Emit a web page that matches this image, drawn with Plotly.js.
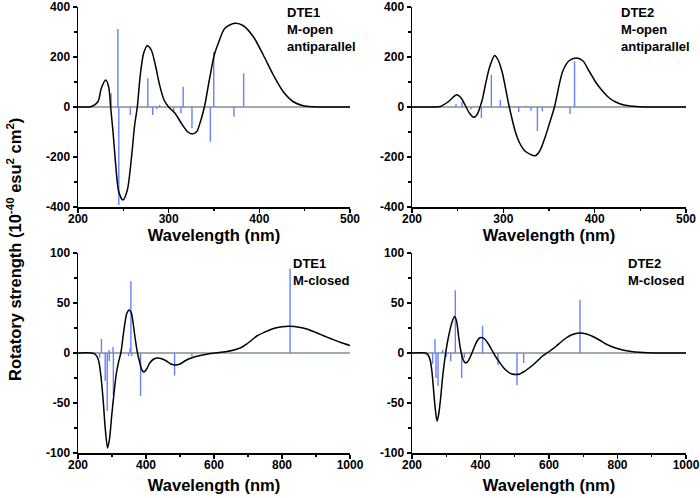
<!DOCTYPE html>
<html>
<head>
<meta charset="utf-8">
<script src="https://cdn.plot.ly/plotly-3.0.1.min.js"></script>
<style>html,body{margin:0;padding:0;background:#fff;}#chart{width:700px;height:498px;}</style>
</head>
<body>
<div id="chart"></div>
<script>
// ---- DTE1 M-open antiparallel ----
const o1CurveWl = [200,210,215,222,225.7,230.5,233.8,236,238.6,241.6,244.9,249.6,254.4,258.9,262.5,265.4,268.7,272.4,276.4,280.8,285.3,290,294.9,300,307,314,320.9,325.8,330.8,335,339.4,344.5,350.3,354.7,362,373,382.4,393.4,404.4,415.4,426.4,437.5,448.5,459.5,470,500];
const o1CurveR  = [0,0,2,21,75,108,81,0,-99,-232,-339,-372,-332,-205,-72,0,128,215,245,228,168,88,28,0,-25,-65,-99,-108,-99,-59,0,101,208,255,315,335,325,281,208,128,61,21,5,1,0,0];
const o1StickWl = [236.5,244,245,257.7,277,282.4,286.8,290,305.5,313.6,316,325.7,346,349.7,372,382.7];
const o1StickR  = [55,312,-392,-32,115,-32,-8,8,-19,-25,81,-85,-139,221,-39,135];

// ---- DTE2 M-open antiparallel ----
const o2CurveWl = [200,225,231,240,249,254,258,263,267.5,271,274.5,277,281,285,290.5,294,298.5,306,313,318,324,335,340,346,351,356,365,372,380,387,394,401,409,416,423,432,442,455,500];
const o2CurveR  = [0,0,2,22,49,35,9,-25,-41,-32,0,30,100,160,206,190,143,9,-97,-145,-177,-195,-175,-118,-60,0,143,185,196,185,143,100,62,36,20,8,3,0,0];
const o2StickWl = [248.2,254.7,264.6,276,286.9,296.7,304,306,316.8,325,330.3,337.3,342.7,373,378];
const o2StickR  = [12,20,-10,-44,129,29,-5,5,-20,5,-15,-97,-17,-28,183];

// ---- DTE1 M-closed ----
const c1CurveWl = [200,240,250,260,267,274,280,287,293,299,306,313,320,326,332,338,344,351,357,362,368,375,382,388,394,402,411,423,436,448,460,473,487,500,514,533,553,590,638,677,700,726,750,775,800,824,850,873,900,922,946,971,1000];
const c1CurveR  = [0,0,-1,-7,-22,-47,-75,-95,-85,-63,-40,-20,-8,0,15,30,40,43,40,30,15,0,-10,-17,-19,-16,-10,-6,-5,-6,-8,-11,-12,-11,-8,-5,-3,-0.5,1.5,5,10,17,21,24.5,26.3,26.7,25.8,24,20.5,17.3,14,10.7,7.5];
const c1StickWl = [263.5,269,280,286,291,292,303,304,348.7,353,355.6,358,384,484,535,823.7];
const c1StickR  = [-5,14,-28,-58,3,-8,6,-42,-3,5,71.7,-3,-43,-22.5,-3.3,84.3];

// ---- DTE2 M-closed ----
const c2CurveWl = [200,239,247,253,258,263,268,273,278,283,290,297,302,307,316,324,330,336,341,346,351,357,364,370,375,382,390,397,404,412,424,433,443,455,468,481,492,504,515,525,536,553,570,581,594,620,635,650,665,678,689,700,714,728,747,766,790,815,840,864,912,1000];
const c2CurveR  = [0,0,-2,-7,-18,-37,-56,-68,-61,-47,-22,-3,8,17,30,36.5,32,17,5,-3,-8,-10,-8,-4,0,6,12,15,15.5,14,8.5,3,-3,-9,-15,-19,-21,-21.5,-21,-19,-16.5,-12,-6.5,-3,0,6.5,11,15,18,19.5,20,19.8,18.5,16.5,13,9,5.5,3,1.5,0.7,0,0];
const c2StickWl = [260.3,267,270,276,289.5,300,313,326.5,345,352.8,406,451,506.5,526,690.5];
const c2StickR  = [-11,14,-25,-33,3.3,-4,-8.3,62.7,-25,-5,27.3,-12.3,-32.3,-10,53.3];

// ---- tick labels & texts ----
const openYTicks = [-400,-200,0,200,400];
const openYText  = ['-400','-200','0','200','400'];
const closedYTicks = [-100,-50,0,50,100];
const closedYText  = ['-100','-50','0','50','100'];
const openXTicks = [200,300,400,500];
const openXText  = ['200','300','400','500'];
const closedXTicks = [200,400,600,800,1000];
const closedXText  = ['200','400','600','800','1000'];
const panelLabels = ['DTE1<br>M-open<br>antiparallel','DTE2<br>M-open<br>antiparallel','DTE1<br>M-closed','DTE2<br>M-closed'];
const xTitle = 'Wavelength (nm)';
const yTitle = 'Rotatory strength (10<sup>-40</sup> esu<sup>2</sup> cm<sup>2</sup>)';

const FONT = 'Liberation Sans, Arial, Helvetica, sans-serif';
const stickColor = '#6680ff';

// stick spectrum: each transition drawn as a vertical segment from 0 to its strength
function sticks(wl, r, xa, ya) {
  const xs = [], ys = [];
  wl.forEach((w, i) => { xs.push(w, w, null); ys.push(0, r[i], null); });
  return {type:'scatter', mode:'lines', x:xs, y:ys, xaxis:xa, yaxis:ya, connectgaps:false,
    line:{color:stickColor, width:1.4}, hoverinfo:'skip', showlegend:false};
}
function curve(x, y, xa, ya) {
  return {type:'scatter', mode:'lines', x:x, y:y, xaxis:xa, yaxis:ya,
    line:{color:'#000', width:1.5, shape:'spline', smoothing:0.8}, showlegend:false};
}

const data = [
  sticks(o1StickWl, o1StickR, 'x', 'y'),
  curve(o1CurveWl, o1CurveR, 'x', 'y'),
  sticks(o2StickWl, o2StickR, 'x2', 'y2'),
  curve(o2CurveWl, o2CurveR, 'x2', 'y2'),
  sticks(c1StickWl, c1StickR, 'x3', 'y3'),
  curve(c1CurveWl, c1CurveR, 'x3', 'y3'),
  sticks(c2StickWl, c2StickR, 'x4', 'y4'),
  curve(c2CurveWl, c2CurveR, 'x4', 'y4')
];

const W = 700, H = 498;
const dxL = [78/W, 350/W], dxR = [412/W, 686/W];
const dyT = [1-207/H, 1-7/H], dyB = [1-453/H, 1-253/H];
const tickFont = {family:FONT, size:12, color:'#000', weight:'bold'};
const titleFont = {family:FONT, size:16.5, color:'#000', weight:'bold'};

function xaxis(dom, anchor, rng, tv, tt, minorD, standoff) {
  return {domain:dom, anchor:anchor, range:rng, showline:true, linecolor:'#000', linewidth:1.5,
    showgrid:false, zeroline:false, ticks:'outside', ticklen:4, tickwidth:1.2, tickcolor:'#000',
    ticklabelstandoff:-4,
    tickmode:'array', tickvals:tv, ticktext:tt, tickfont:tickFont,
    minor:{ticks:'outside', ticklen:2.5, tickwidth:1.2, tickcolor:'#000', dtick:minorD, tick0:rng[0], showgrid:false},
    title:{text:xTitle, font:titleFont, standoff:standoff}, fixedrange:true};
}
function yaxis(dom, anchor, rng, tv, tt, minorD) {
  return {domain:dom, anchor:anchor, range:rng, showline:true, linecolor:'#000', linewidth:1.5,
    showgrid:false, zeroline:true, zerolinecolor:'#a3aaaa', zerolinewidth:1.5,
    ticks:'outside', ticklen:4, tickwidth:1.2, tickcolor:'#000',
    tickmode:'array', tickvals:tv, ticktext:tt, tickfont:tickFont,
    minor:{ticks:'outside', ticklen:2.5, tickwidth:1.2, tickcolor:'#000', dtick:minorD, tick0:rng[0], showgrid:false},
    fixedrange:true};
}

const labelPos = [[285/W, 1-3/H], [619/W, 1-3/H], [291/W, 1-254/H], [626/W, 1-254/H]];
const annotations = panelLabels.map((t, i) => ({
  text:t, xref:'paper', yref:'paper', x:labelPos[i][0], y:labelPos[i][1],
  xanchor:'left', yanchor:'top', align:'left', showarrow:false,
  font:{family:FONT, size:13, color:'#000', weight:'bold'}
}));
annotations.push({text:yTitle, xref:'paper', yref:'paper', x:14/W, y:1-250/H,
  xanchor:'center', yanchor:'middle', textangle:-90, showarrow:false, font:titleFont});

const layout = {
  width:W, height:H, margin:{l:0, r:0, t:0, b:0, autoexpand:false},
  paper_bgcolor:'#fff', plot_bgcolor:'#fff', showlegend:false,
  xaxis:  xaxis(dxL, 'y',  [200,500],  openXTicks,   openXText,   50, 4),
  yaxis:  yaxis(dyT, 'x',  [-400,400], openYTicks,   openYText,   100),
  xaxis2: xaxis(dxR, 'y2', [200,500],  openXTicks,   openXText,   50, 4),
  yaxis2: yaxis(dyT, 'x2', [-400,400], openYTicks,   openYText,   100),
  xaxis3: xaxis(dxL, 'y3', [200,1000], closedXTicks, closedXText, 100, 8),
  yaxis3: yaxis(dyB, 'x3', [-100,100], closedYTicks, closedYText, 25),
  xaxis4: xaxis(dxR, 'y4', [200,1000], closedXTicks, closedXText, 100, 8),
  yaxis4: yaxis(dyB, 'x4', [-100,100], closedYTicks, closedYText, 25),
  annotations:annotations
};

Plotly.newPlot('chart', data, layout, {displayModeBar:false, staticPlot:true});
</script>
</body>
</html>
